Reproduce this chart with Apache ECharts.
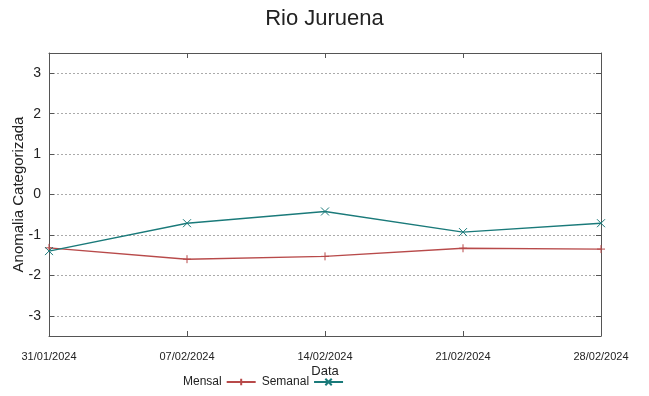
<!DOCTYPE html>
<html>
<head>
<meta charset="utf-8">
<script src="https://cdn.jsdelivr.net/npm/echarts@6/dist/echarts.min.js"></script>
<style>
html,body{margin:0;padding:0;background:#fff;}
#chart{width:649px;height:396px;}
</style>
</head>
<body>
<div id="chart"></div>
<script>
const categories = ['31/01/2024','07/02/2024','14/02/2024','21/02/2024','28/02/2024'];
const mensal = [-1.32, -1.60, -1.53, -1.33, -1.35];
const semanal = [-1.40, -0.71, -0.42, -0.93, -0.71];
const yTicks = [-3, -2, -1, 0, 1, 2, 3];

const axisColor = '#555';
const font = '"Liberation Sans", Arial, sans-serif';
const plusPath = 'path://M0,5L10,5M5,0L5,10';
const crossPath = 'path://M0,0L10,10M10,0L0,10';

const chart = echarts.init(document.getElementById('chart'), null, {renderer:'canvas'});
chart.setOption({
  animation: false,
  backgroundColor: '#fff',
  title: {
    text: 'Rio Juruena', left: 'center', top: 3,
    textStyle: {fontFamily: font, fontSize: 22, fontWeight: 'normal', color: '#222'}
  },
  legend: {
    left: 183, top: 376, padding: 0, align: 'right', itemGap: 5, itemWidth: 29, itemHeight: 8,
    textStyle: {fontFamily: font, fontSize: 12, color: '#222'},
    data: ['Mensal', 'Semanal']
  },
  grid: {left: 49, right: 48, top: 53, bottom: 60, containLabel: false, outerBoundsMode: 'none'},
  xAxis: [{
    type: 'category', data: categories, boundaryGap: false,
    name: 'Data', nameLocation: 'middle', nameGap: 29, nameMoveOverlap: false,
    nameTextStyle: {fontFamily: font, fontSize: 13, color: '#222'},
    axisLine: {onZero: false, lineStyle: {color: axisColor, width: 1}},
    axisTick: {inside: true, length: 5, lineStyle: {color: axisColor}},
    axisLabel: {margin: 15, fontFamily: font, fontSize: 11, color: '#222', interval: 0},
    splitLine: {show: false}
  }, {
    type: 'category', data: categories, boundaryGap: false, position: 'top',
    axisLine: {onZero: false, lineStyle: {color: axisColor, width: 1}},
    axisTick: {inside: true, length: 5, lineStyle: {color: axisColor}},
    axisLabel: {show: false}, splitLine: {show: false}
  }],
  yAxis: [{
    type: 'value', min: -3.5, max: 3.5,
    name: 'Anomalia Categorizada', nameLocation: 'middle', nameGap: 23, nameRotate: 90, nameMoveOverlap: false,
    nameTextStyle: {fontFamily: font, fontSize: 15, color: '#222'},
    axisLine: {show: true, onZero: false, lineStyle: {color: axisColor, width: 1}},
    axisTick: {show: true, inside: true, length: 5, lineStyle: {color: axisColor}, customValues: yTicks},
    axisLabel: {margin: 8, fontFamily: font, fontSize: 14, color: '#222', customValues: yTicks},
    splitLine: {show: true, customValues: yTicks, lineStyle: {color: '#aaa', type: [2, 2], width: 1}}
  }, {
    type: 'value', min: -3.5, max: 3.5, position: 'right',
    axisLine: {show: true, onZero: false, lineStyle: {color: axisColor, width: 1}},
    axisTick: {show: true, inside: true, length: 5, lineStyle: {color: axisColor}, customValues: yTicks},
    axisLabel: {show: false}, splitLine: {show: false}
  }],
  series: [{
    name: 'Mensal', type: 'line', data: mensal,
    symbol: plusPath, symbolSize: 8, showSymbol: true,
    lineStyle: {color: '#b84a4a', width: 1.4},
    itemStyle: {color: '#b84a4a', borderColor: '#b84a4a', borderWidth: 1}
  }, {
    name: 'Semanal', type: 'line', data: semanal,
    symbol: crossPath, symbolSize: 8, showSymbol: true,
    lineStyle: {color: '#1a7a7a', width: 1.4},
    itemStyle: {color: '#1a7a7a', borderColor: '#1a7a7a', borderWidth: 1}
  }]
});
</script>
</body>
</html>
